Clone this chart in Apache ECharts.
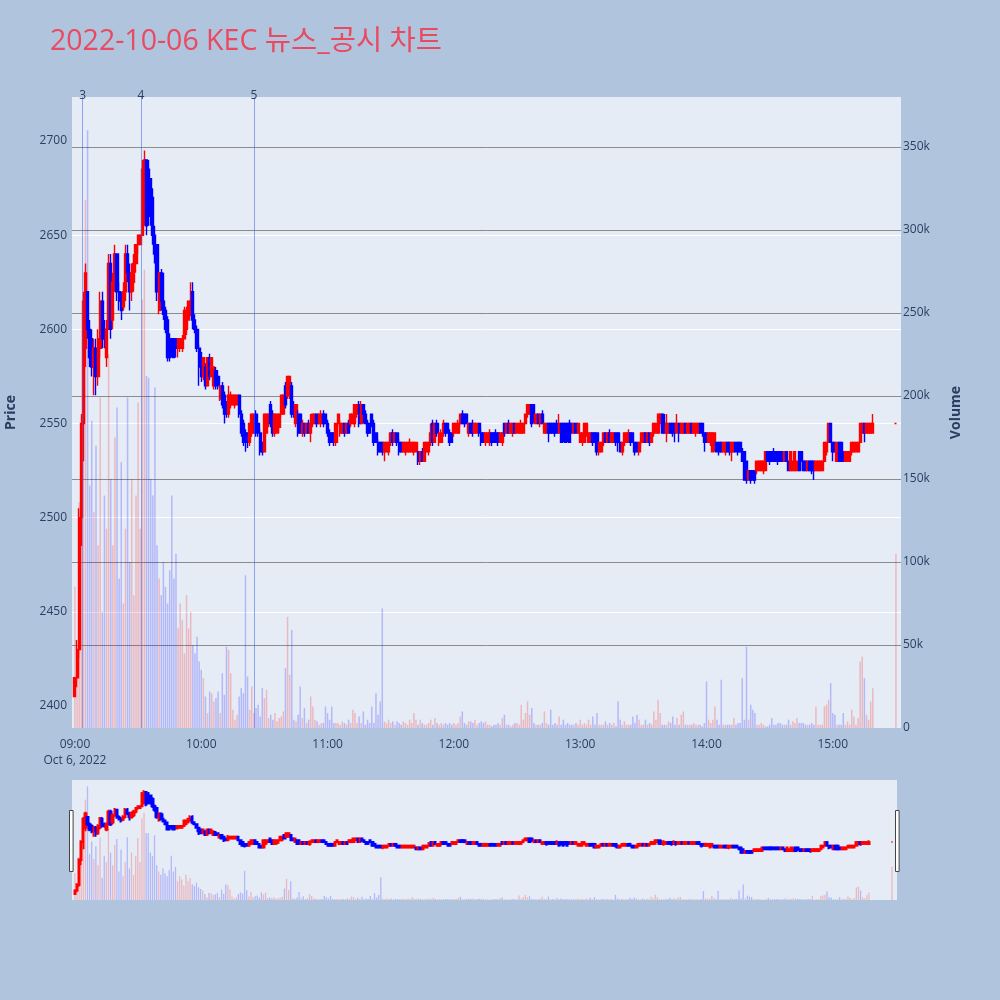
<!DOCTYPE html>
<html><head><meta charset="utf-8">
<script src="https://cdn.jsdelivr.net/npm/echarts@6/dist/echarts.min.js"></script>
<style>html,body{margin:0;padding:0;background:#b0c4de;}#chart{width:1000px;height:1000px;}</style>
</head><body><div id="chart"></div>
<script>
const chartTitle = '2022-10-06 KEC 뉴스_공시 차트';
const dateLabel = 'Oct 6, 2022';
const xTickLabels = ['09:00','10:00','11:00','12:00','13:00','14:00','15:00'];
const priceTicks = [2400,2450,2500,2550,2600,2650,2700];
const newsTimes = ['09:03:40','09:31:20','10:25:00'];
const newsLabels = ['3','4','5'];
// one candle per minute 09:00..15:19, then the closing auction at 15:30
const sessionStart = '09:00', lastContinuous = '15:19', closingAuction = '15:30';
// [open, close, low, high]
const ohlc = [
[2405,2415,2405,2415],[2415,2430,2410,2435],[2430,2500,2425,2505],[2500,2550,2485,2555],[2550,2615,2530,2620],
[2590,2630,2580,2635],[2620,2600,2595,2620],[2600,2585,2580,2605],[2595,2580,2575,2600],[2580,2590,2565,2595],
[2590,2575,2565,2595],[2575,2595,2570,2600],[2590,2615,2585,2620],[2615,2595,2590,2620],[2600,2595,2590,2605],
[2585,2600,2580,2605],[2600,2635,2600,2640],[2635,2600,2595,2640],[2605,2625,2600,2630],[2625,2640,2620,2645],
[2640,2620,2615,2640],[2620,2615,2610,2625],[2615,2610,2605,2620],[2612,2620,2610,2625],[2620,2640,2615,2645],
[2640,2630,2625,2645],[2630,2620,2610,2635],[2620,2630,2615,2635],[2625,2635,2620,2640],[2635,2645,2630,2645],
[2645,2650,2640,2650],[2645,2650,2645,2650],[2650,2685,2650,2690],[2660,2690,2655,2695],[2690,2655,2650,2690],
[2685,2660,2655,2690],[2680,2660,2655,2680],[2670,2650,2645,2675],[2650,2640,2635,2655],[2645,2620,2615,2645],
[2610,2630,2608,2630],[2630,2615,2610,2632],[2615,2608,2605,2630],[2610,2600,2598,2612],[2605,2585,2583,2607],
[2595,2585,2583,2598],[2595,2590,2585,2595],[2595,2585,2585,2595],[2595,2590,2585,2595],[2590,2595,2585,2595],
[2590,2595,2588,2595],[2590,2595,2588,2597],[2595,2610,2595,2612],[2600,2610,2597,2612],[2605,2615,2605,2615],
[2610,2615,2607,2625],[2620,2605,2600,2625],[2605,2600,2598,2608],[2600,2590,2588,2602],[2590,2580,2570,2592],
[2585,2575,2572,2588],[2575,2585,2573,2585],[2580,2570,2568,2582],[2570,2585,2570,2585],[2585,2575,2573,2587],
[2575,2585,2575,2585],[2570,2580,2568,2580],[2578,2570,2568,2580],[2575,2570,2568,2575],[2563,2570,2562,2570],
[2570,2560,2558,2572],[2565,2555,2550,2567],[2560,2555,2553,2562],[2555,2565,2553,2570],[2560,2565,2558,2567],
[2560,2565,2560,2565],[2560,2565,2558,2565],[2560,2565,2560,2565],[2565,2555,2553,2565],[2555,2545,2543,2557],
[2550,2540,2538,2552],[2545,2540,2535,2547],[2545,2540,2537,2545],[2540,2550,2538,2550],[2545,2555,2543,2555],
[2545,2555,2545,2555],[2555,2545,2543,2557],[2550,2545,2543,2550],[2545,2535,2533,2547],[2540,2535,2533,2540],
[2535,2555,2535,2555],[2545,2555,2545,2555],[2550,2555,2548,2555],[2560,2550,2548,2562],[2555,2545,2543,2557],
[2545,2555,2543,2555],[2545,2555,2545,2555],[2548,2555,2545,2555],[2555,2565,2553,2565],[2555,2565,2555,2565],
[2570,2560,2558,2572],[2565,2575,2563,2575],[2565,2575,2563,2575],[2570,2555,2553,2572],[2560,2555,2553,2562],
[2550,2560,2548,2560],[2555,2545,2543,2557],[2555,2545,2545,2555],[2545,2550,2543,2552],[2550,2545,2543,2550],
[2545,2550,2545,2550],[2550,2545,2545,2552],[2545,2550,2540,2555],[2550,2555,2548,2555],[2550,2555,2550,2555],
[2555,2550,2548,2555],[2550,2555,2550,2555],[2550,2555,2548,2557],[2555,2550,2548,2557],[2555,2550,2550,2555],
[2550,2545,2543,2552],[2545,2540,2538,2547],[2545,2540,2540,2545],[2545,2540,2538,2545],[2540,2550,2538,2550],
[2550,2555,2548,2555],[2545,2550,2543,2552],[2545,2550,2545,2550],[2550,2545,2543,2550],[2545,2550,2545,2550],
[2550,2545,2545,2552],[2550,2555,2548,2555],[2550,2555,2550,2555],[2550,2560,2548,2560],[2555,2560,2553,2560],
[2560,2550,2548,2562],[2550,2560,2550,2562],[2560,2555,2550,2560],[2555,2550,2550,2557],[2550,2545,2543,2552],
[2550,2545,2545,2550],[2555,2550,2548,2555],[2550,2540,2538,2552],[2545,2540,2540,2545],[2540,2535,2533,2542],
[2540,2535,2535,2540],[2540,2535,2533,2540],[2535,2540,2530,2540],[2535,2540,2535,2540],[2535,2540,2533,2540],
[2540,2545,2538,2545],[2545,2540,2538,2547],[2540,2545,2540,2545],[2545,2540,2538,2545],[2540,2535,2533,2542],
[2540,2535,2535,2540],[2535,2540,2535,2540],[2535,2540,2533,2540],[2535,2540,2535,2540],[2535,2540,2535,2542],
[2535,2540,2535,2540],[2535,2540,2533,2540],[2535,2540,2535,2540],[2535,2530,2528,2535],[2530,2535,2528,2535],
[2535,2530,2530,2537],[2530,2540,2530,2540],[2535,2540,2535,2540],[2535,2540,2533,2540],[2540,2545,2538,2550],
[2550,2540,2538,2552],[2540,2550,2540,2550],[2550,2545,2543,2552],[2540,2545,2538,2545],[2540,2545,2540,2547],
[2545,2550,2543,2552],[2550,2545,2543,2550],[2550,2545,2545,2550],[2545,2540,2538,2547],[2545,2540,2540,2545],
[2545,2550,2543,2550],[2545,2550,2545,2550],[2545,2550,2545,2552],[2550,2555,2548,2555],[2555,2550,2550,2557],
[2555,2550,2548,2555],[2555,2550,2550,2555],[2545,2550,2543,2550],[2550,2545,2545,2550],[2550,2545,2543,2552],
[2545,2550,2545,2550],[2545,2550,2545,2550],[2550,2545,2543,2550],[2545,2540,2538,2547],[2545,2540,2540,2545],
[2540,2545,2538,2545],[2540,2545,2540,2545],[2540,2545,2538,2547],[2545,2540,2538,2545],[2545,2540,2540,2545],
[2545,2540,2540,2547],[2545,2540,2538,2545],[2540,2545,2540,2545],[2540,2545,2538,2545],[2550,2545,2543,2550],
[2545,2550,2545,2550],[2550,2545,2545,2552],[2545,2550,2545,2550],[2545,2550,2543,2550],[2550,2545,2545,2550],
[2545,2550,2545,2550],[2545,2550,2545,2550],[2545,2550,2545,2552],[2545,2550,2545,2550],[2550,2555,2550,2555],
[2555,2560,2553,2560],[2555,2560,2555,2560],[2560,2550,2548,2560],[2560,2555,2550,2560],[2550,2555,2550,2555],
[2555,2550,2550,2555],[2550,2555,2548,2555],[2555,2550,2550,2557],[2545,2550,2545,2550],[2545,2550,2545,2550],
[2550,2545,2540,2550],[2550,2545,2545,2550],[2550,2545,2545,2550],[2550,2545,2543,2550],[2550,2545,2545,2552],
[2545,2550,2545,2555],[2550,2540,2540,2550],[2550,2545,2540,2550],[2550,2540,2540,2550],[2550,2545,2540,2550],
[2550,2540,2540,2552],[2550,2545,2545,2550],[2545,2550,2545,2550],[2550,2545,2545,2550],[2545,2550,2545,2550],
[2540,2545,2540,2545],[2540,2545,2538,2545],[2540,2550,2540,2550],[2545,2550,2543,2550],[2540,2545,2540,2545],
[2540,2545,2540,2545],[2545,2540,2538,2545],[2545,2540,2540,2545],[2545,2535,2533,2545],[2535,2540,2533,2540],
[2535,2540,2535,2540],[2540,2545,2538,2545],[2545,2540,2540,2545],[2540,2545,2540,2545],[2545,2540,2540,2547],
[2540,2545,2540,2545],[2540,2545,2540,2545],[2545,2540,2538,2545],[2545,2540,2535,2545],[2540,2535,2535,2540],
[2535,2540,2533,2540],[2540,2545,2538,2545],[2540,2545,2540,2545],[2540,2545,2540,2547],[2545,2540,2538,2545],
[2545,2540,2540,2545],[2540,2535,2533,2540],[2540,2535,2535,2540],[2535,2540,2533,2540],[2540,2545,2538,2545],
[2540,2545,2540,2545],[2545,2540,2540,2545],[2540,2545,2540,2545],[2545,2540,2538,2545],[2540,2545,2540,2545],
[2545,2550,2543,2550],[2545,2550,2545,2550],[2545,2555,2545,2555],[2550,2555,2548,2555],[2555,2545,2545,2555],
[2550,2545,2545,2555],[2545,2550,2540,2555],[2545,2550,2545,2550],[2550,2545,2545,2550],[2550,2545,2543,2550],
[2550,2545,2540,2550],[2545,2550,2545,2555],[2550,2545,2540,2550],[2545,2550,2545,2550],[2545,2550,2545,2550],
[2550,2545,2545,2550],[2545,2550,2545,2550],[2545,2550,2545,2550],[2550,2545,2545,2550],[2545,2550,2545,2550],
[2545,2550,2543,2550],[2545,2550,2545,2550],[2550,2545,2545,2550],[2550,2545,2543,2550],[2545,2540,2535,2545],
[2545,2540,2540,2545],[2540,2545,2540,2545],[2540,2545,2538,2545],[2535,2545,2535,2545],[2540,2545,2535,2545],
[2540,2535,2535,2540],[2540,2535,2533,2540],[2540,2535,2535,2540],[2535,2540,2535,2540],[2535,2540,2533,2540],
[2540,2535,2535,2540],[2540,2535,2533,2540],[2535,2540,2530,2540],[2535,2540,2535,2540],[2540,2535,2535,2540],
[2540,2535,2533,2540],[2540,2535,2535,2540],[2535,2530,2530,2537],[2535,2520,2520,2535],[2530,2520,2518,2530],
[2520,2525,2520,2525],[2525,2520,2518,2525],[2525,2520,2520,2525],[2525,2520,2518,2525],[2525,2530,2523,2530],
[2525,2530,2525,2530],[2525,2530,2525,2530],[2525,2530,2523,2530],[2525,2535,2525,2535],[2535,2530,2530,2535],
[2535,2530,2528,2535],[2535,2530,2530,2535],[2535,2530,2530,2537],[2535,2530,2530,2535],[2535,2530,2528,2535],
[2535,2530,2530,2535],[2535,2530,2530,2535],[2530,2535,2530,2535],[2535,2530,2530,2535],[2530,2525,2525,2530],
[2525,2535,2525,2535],[2525,2530,2525,2530],[2525,2535,2525,2535],[2525,2530,2525,2530],[2535,2525,2525,2535],
[2535,2530,2525,2535],[2530,2525,2525,2530],[2530,2525,2525,2530],[2525,2530,2525,2530],[2530,2525,2525,2530],
[2530,2525,2523,2530],[2530,2525,2520,2530],[2525,2530,2525,2530],[2525,2530,2525,2530],[2525,2530,2525,2530],
[2525,2530,2525,2530],[2530,2540,2530,2540],[2535,2540,2533,2540],[2540,2550,2540,2550],[2550,2540,2540,2550],
[2540,2535,2530,2540],[2540,2535,2535,2540],[2530,2540,2530,2540],[2540,2530,2530,2540],[2540,2530,2530,2540],
[2535,2530,2530,2535],[2530,2535,2530,2535],[2530,2535,2530,2535],[2530,2535,2530,2535],[2535,2540,2533,2540],
[2535,2540,2535,2540],[2535,2540,2535,2540],[2535,2540,2535,2540],[2540,2550,2540,2550],[2545,2550,2545,2550],
[2550,2545,2540,2550],[2545,2550,2545,2550],[2545,2550,2545,2550],[2545,2550,2545,2550],[2545,2550,2545,2555],
[2550,2550,2550,2550]
];
// traded volume per candle, in thousands of shares
const volumeK = [
85,42,136,150,200,318,360,146,185,130,170,110,199,70,140,120,225,150,110,175,
193,90,160,75,120,199,100,150,80,140,196,120,258,276,212,211,150,140,205,110,
90,80,100,85,75,95,140,90,105,60,75,65,45,80,60,70,50,45,55,40,
35,30,19,9,22,21,16,18,22,9,33,20,49,47,33,11,5,8,19,24,
21,92,31,11,25,9,12,14,7,24,18,23,6,8,5,9,4,6,7,10,
36,67,32,59,5,4,8,25,6,12,3,5,19,13,5,4,2,3,3,13,
9,5,13,3,3,3,2,4,3,2,5,3,11,9,3,7,3,10,2,5,
3,13,3,21,8,16,72,4,3,5,3,4,2,4,3,2,4,3,2,5,
3,9,5,2,5,3,2,2,3,5,2,6,3,2,3,2,3,2,3,2,
3,2,3,7,10,3,2,4,4,3,5,2,3,4,3,4,2,2,1,2,
2,3,2,6,8,2,2,1,2,3,3,2,14,5,9,16,8,12,3,2,
2,2,3,10,3,2,11,2,3,2,7,2,5,2,3,2,2,2,3,2,
5,2,3,2,5,2,7,2,9,2,2,2,4,2,3,2,3,1,16,5,
2,4,2,2,2,7,3,8,5,2,2,5,2,3,2,10,5,17,9,2,
2,2,4,3,7,2,6,2,8,10,2,2,2,2,3,2,2,2,1,3,
28,5,3,5,13,5,2,29,2,2,2,2,2,6,2,3,3,30,5,49,
5,14,11,9,2,2,3,2,1,1,2,6,2,2,3,3,2,2,2,5,
2,4,3,6,3,3,3,2,2,2,3,2,13,2,2,2,13,14,17,27,
9,8,2,2,2,9,2,4,2,11,7,2,6,40,43,30,8,5,16,24,
105
];

function toMin(t){ const p = t.split(':').map(Number); return p[0]*60 + p[1] + (p[2] || 0)/60 - 540; }
function fmt(m){ const h = Math.floor(m/60)+9, mm = m%60; return (h<10?'0':'')+h+':'+(mm<10?'0':'')+mm; }
const times = [];
for (let m = toMin(sessionStart); m <= toMin(lastContinuous); m++) times.push(fmt(m));
times.push(closingAuction);

const candleData = ohlc.map((d,i)=>[toMin(times[i]), d[0], d[1], d[2], d[3]]);
const volData = volumeK.map((v,i)=>[toMin(times[i]), v*1000]);
const isUp = i => ohlc[i][1] >= ohlc[i][0];
const xTickValues = xTickLabels.map(toMin);

const FONT = '"Open Sans", "Noto Sans CJK KR", sans-serif';
const TXT = '#2a3f5f';
const xMin = -1.4, xMax = 392.4, pMin = 2388.3, pMax = 2723.4, vMax = 380000;

const chart = echarts.init(document.getElementById('chart'), null, {renderer:'canvas'});
chart.setOption({
  backgroundColor: '#b0c4de',
  animation: false,
  textStyle: {fontFamily: FONT},
  title: {text: chartTitle, left: 45, top: 23, textStyle: {color:'#ea4a60', fontSize: 28.5, fontWeight:'normal', fontFamily: FONT}},
  grid: [
    {left:72, top:97, width:829, height:631, show:true, backgroundColor:'#e5ecf6', borderWidth:0, containLabel:false, outerBoundsMode:'none'},
    {left:72, top:780, width:825, height:120, show:true, backgroundColor:'#e5ecf6', borderWidth:0, containLabel:false, outerBoundsMode:'none'}
  ],
  xAxis: [
    {type:'value', gridIndex:0, min:xMin, max:xMax,
     axisLine:{show:false}, axisTick:{show:false}, splitLine:{show:false},
     axisLabel:{customValues: xTickValues, color:TXT, fontSize:12, margin:9, lineHeight:16, fontFamily:FONT,
       formatter: v => { const i = xTickValues.indexOf(v); const s = i>=0 ? xTickLabels[i] : ''; return i===0 ? s + '\n' + dateLabel : s; }}},
    {type:'value', gridIndex:1, min:xMin, max:xMax, show:false}
  ],
  yAxis: [
    {type:'value', gridIndex:0, position:'left', min:pMin, max:pMax,
     name:'Price', nameLocation:'middle', nameGap:54, nameTextStyle:{color:TXT, fontSize:14, fontWeight:'bold', fontFamily:FONT},
     axisLine:{show:false}, axisTick:{show:false, customValues: priceTicks},
     axisLabel:{customValues: priceTicks, color:TXT, fontSize:12, margin:5, fontFamily:FONT, formatter: v => String(v)},
     splitLine:{show:true, showMinLine:false, showMaxLine:false, lineStyle:{color:'#ffffff', width:1}}},
    {type:'value', gridIndex:0, position:'right', min:0, max:vMax, interval:50000,
     name:'Volume', nameLocation:'middle', nameGap:48, nameTextStyle:{color:TXT, fontSize:14, fontWeight:'bold', fontFamily:FONT},
     axisLine:{show:false}, axisTick:{show:false},
     axisLabel:{color:TXT, fontSize:12, margin:2, fontFamily:FONT, showMaxLabel:false, formatter: v => v===0 ? '0' : (v/1000)+'k'},
     splitLine:{show:true, showMinLine:false, showMaxLine:false, lineStyle:{color:'#8c8c8c', width:1}}},
    {type:'value', gridIndex:1, min:pMin, max:pMax, show:false, splitLine:{show:false}},
    {type:'value', gridIndex:1, min:0, max:vMax, show:false, splitLine:{show:false}}
  ],
  series: [
    {type:'bar', name:'Volume', xAxisIndex:0, yAxisIndex:1, data:volData, barWidth:1.5, z:1,
     itemStyle:{color: p => isUp(p.dataIndex) ? 'rgba(255,0,0,0.22)' : 'rgba(0,0,255,0.22)'}},
    {type:'candlestick', name:'Price', xAxisIndex:0, yAxisIndex:0, data:candleData, barWidth:2.6, z:3,
     encode:{x:0, y:[1,2,3,4]},
     itemStyle:{color:'#ff0000', color0:'#0000ff', borderColor:'#ff0000', borderColor0:'#0000ff', borderColorDoji:'#ff0000', borderWidth:1.4},
     markLine:{silent:true, symbol:'none', animation:false,
       lineStyle:{color:'rgba(70,100,230,0.55)', width:1, type:'solid'},
       label:{show:true, position:'end', distance:-5, formatter: p => p.name, color:TXT, fontSize:12, fontFamily:FONT},
       data: newsTimes.map((t,i)=>({name:newsLabels[i], xAxis: toMin(t)}))}},
    {type:'bar', xAxisIndex:1, yAxisIndex:3, data:volData, barWidth:1.3, z:1,
     itemStyle:{color: p => isUp(p.dataIndex) ? 'rgba(255,0,0,0.22)' : 'rgba(0,0,255,0.22)'}},
    {type:'candlestick', xAxisIndex:1, yAxisIndex:2, data:candleData, barWidth:1.8, z:3,
     encode:{x:0, y:[1,2,3,4]},
     itemStyle:{color:'#ff0000', color0:'#0000ff', borderColor:'#ff0000', borderColor0:'#0000ff', borderColorDoji:'#ff0000', borderWidth:2}}
  ],
  graphic: [
    {type:'rect', shape:{x:69.5, y:810.5, width:3.6, height:61}, style:{fill:'#ffffff', stroke:'#444444', lineWidth:1}, z:100},
    {type:'rect', shape:{x:895.5, y:810.5, width:3.6, height:61}, style:{fill:'#ffffff', stroke:'#444444', lineWidth:1}, z:100}
  ]
});
</script></body></html>
